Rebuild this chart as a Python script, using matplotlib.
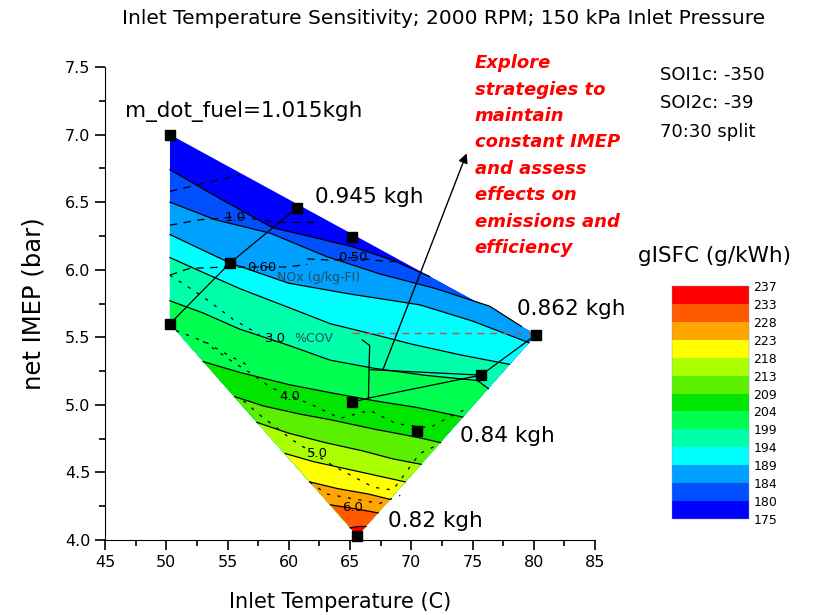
import numpy as np
import matplotlib
matplotlib.use("Agg")
from matplotlib import pyplot as plt
from matplotlib.cm import ScalarMappable
from matplotlib.colors import ListedColormap, BoundaryNorm

plt.rcParams['font.family'] = ['DejaVu Sans']

# operating points: inlet temperature (C), net IMEP (bar)
op_temp = [50.3, 60.7, 65.2, 80.2, 55.2, 50.3, 65.2, 75.7, 70.5, 65.6]
op_imep = [7.00, 6.46, 6.24, 5.52, 6.05, 5.60, 5.02, 5.22, 4.81, 4.03]
# outline of the mapped region (clockwise: top-left, right, bottom, left)
edge_temp = [50.3, 80.2, 65.6, 50.3]
edge_imep = [7.00, 5.52, 4.03, 5.60]

# gISFC contour lines, per level
levels = [175, 180, 184, 189, 194, 199, 204, 209, 213, 218, 223, 228, 233, 237]
c180_t = [50.3, 54.5, 58.7, 62.0, 65.2, 68.5, 71.5]
c180_p = [6.74, 6.52, 6.31, 6.24, 6.17, 6.07, 5.95]
c184_t = [50.3, 54.0, 58.5, 63.0, 67.4, 72.0, 76.4, 79.0]
c184_p = [6.50, 6.37, 6.27, 6.10, 5.97, 5.86, 5.73, 5.58]
c189_t = [50.3, 55.2, 60.0, 65.0, 70.7, 75.0, 79.6]
c189_p = [6.26, 6.05, 5.90, 5.82, 5.74, 5.62, 5.46]
c194_t = [50.3, 53.0, 56.0, 60.0, 63.4, 67.0, 70.0, 74.0, 78.0]
c194_p = [6.09, 5.98, 5.86, 5.72, 5.60, 5.52, 5.45, 5.37, 5.30]
c199_t = [50.3, 53.0, 56.0, 60.0, 63.4, 67.0, 71.0, 75.4, 76.3]
c199_p = [5.77, 5.68, 5.56, 5.44, 5.33, 5.27, 5.22, 5.18, 5.12]
c204_t = [53.0, 56.0, 60.0, 63.4, 67.0, 70.5, 74.2]
c204_p = [5.32, 5.24, 5.15, 5.09, 5.03, 4.98, 4.91]
c209_t = [55.6, 58.0, 61.0, 63.4, 67.0, 70.5, 72.4]
c209_p = [5.06, 4.99, 4.93, 4.89, 4.82, 4.76, 4.72]
c213_t = [57.4, 60.0, 63.0, 66.0, 68.5, 70.8]
c213_p = [4.87, 4.79, 4.72, 4.66, 4.60, 4.56]
c218_t = [59.7, 62.0, 65.0, 67.5, 69.5]
c218_p = [4.64, 4.58, 4.52, 4.47, 4.43]
c223_t = [61.7, 64.0, 66.5, 68.3]
c223_p = [4.43, 4.38, 4.34, 4.30]
c228_t = [63.4, 65.5, 67.3]
c228_p = [4.26, 4.23, 4.20]
c233_t = [65.0, 65.7, 66.3]
c233_p = [4.09, 4.10, 4.10]

band_colors = ['#0000FF', '#0050FF', '#00A0FF', '#00FFFF', '#00FFAA', '#00FF50',
               '#00E600', '#5AF000', '#AAFF00', '#FFFF00', '#FFA500', '#FF5A00', '#FF0000']

# NOx (g/kg-FI) contour lines
nox_a_t = [50.3, 53.1, 56.0]
nox_a_p = [6.58, 6.64, 6.70]
nox_10_t = [50.3, 52.8, 55.6, 57.7, 58.9, 62.5]
nox_10_p = [6.33, 6.37, 6.39, 6.37, 6.35, 6.35]
nox_06_t = [50.3, 51.9, 55.0, 57.8, 59.9, 61.5]
nox_06_p = [5.96, 6.01, 6.02, 6.02, 6.02, 6.04]
nox_05_t = [61.5, 63.6, 65.2, 68.0, 69.0]
nox_05_p = [6.08, 6.07, 6.09, 6.06, 6.06]

# %COV contour lines
cov_30_t = [50.3, 53.0, 55.5, 57.6]
cov_30_p = [5.96, 5.80, 5.63, 5.52]
cov_35_t = [50.8, 53.3, 54.4, 56.5]
cov_35_p = [5.55, 5.46, 5.40, 5.30]
cov_40_t = [53.0, 55.4, 56.8, 58.5, 61.9, 64.2, 66.6, 68.8, 71.5, 73.7, 74.3]
cov_40_p = [5.47, 5.32, 5.24, 5.13, 5.00, 4.90, 4.96, 4.86, 4.83, 4.94, 4.96]
cov_50_t = [56.3, 57.7, 60.3, 63.6, 66.9, 68.5, 70.7, 72.3]
cov_50_p = [5.03, 4.92, 4.74, 4.55, 4.39, 4.37, 4.64, 4.71]
cov_60_t = [61.7, 63.1, 67.4, 69.1]
cov_60_p = [4.43, 4.34, 4.27, 4.33]

contours = [(c180_t, c180_p), (c184_t, c184_p), (c189_t, c189_p), (c194_t, c194_p),
            (c199_t, c199_p), (c204_t, c204_p), (c209_t, c209_p), (c213_t, c213_p),
            (c218_t, c218_p), (c223_t, c223_p), (c228_t, c228_p), (c233_t, c233_p)]

edge = np.column_stack([edge_temp, edge_imep])


def edge_param(pt):
    # position of a point along the outline: edge index + fraction
    best = None
    for i in range(4):
        p0, p1 = edge[i], edge[(i + 1) % 4]
        d = p1 - p0
        t = np.clip(np.dot(pt - p0, d) / np.dot(d, d), 0, 1)
        dist = np.linalg.norm(p0 + t * d - pt)
        if best is None or dist < best[0]:
            best = (dist, i + t)
    return best[1]


def high_side(t, p):
    # polygon on the high-gISFC side of a contour line
    s_par = edge_param(np.array([t[0], p[0]]))
    e_par = edge_param(np.array([t[-1], p[-1]]))
    xs, ys = list(t), list(p)
    for i in range(4):
        if e_par < i < s_par:
            xs.append(edge_temp[i])
            ys.append(edge_imep[i])
    return xs, ys


fig = plt.figure(figsize=(8.13, 6.15), dpi=100)
ax = fig.add_axes([0.1292, 0.1220, 0.6027, 0.7690])

ax.fill(edge_temp, edge_imep, color=band_colors[0], lw=0)
for k, (t, p) in enumerate(contours):
    xs, ys = high_side(t, p)
    ax.fill(xs, ys, color=band_colors[k + 1], lw=0)
for t, p in contours:
    ax.plot(t, p, color='k', lw=0.9)

# sweep lines between operating points
ax.plot([50.3, 55.2, 60.7], [5.60, 6.05, 6.46], color='k', lw=0.9)
ax.plot([65.2, 66.5, 75.7, 80.2], [5.02, 5.05, 5.22, 5.52], color='k', lw=0.9)
ax.plot([66.0, 66.6, 66.5], [5.48, 5.44, 5.05], color='k', lw=0.9)
ax.plot([66.7, 75.7], [5.26, 5.22], color='k', lw=0.9)

for t, p in [(nox_a_t, nox_a_p), (nox_10_t, nox_10_p), (nox_06_t, nox_06_p), (nox_05_t, nox_05_p)]:
    ax.plot(t, p, color='k', lw=0.9, dashes=(6, 5))
for t, p in [(cov_30_t, cov_30_p), (cov_35_t, cov_35_p), (cov_40_t, cov_40_p),
             (cov_50_t, cov_50_p), (cov_60_t, cov_60_p)]:
    ax.plot(t, p, color='k', lw=0.9, dashes=(2.5, 6))

lab = dict(fontsize=9.5, ha='center', va='center', color='k')
ax.text(55.6, 6.39, '1.0', **lab)
ax.text(57.8, 6.02, '0.60', **lab)
ax.text(65.2, 6.09, '0.50', **lab)
ax.text(62.4, 5.94, 'NOx (g/kg-FI)', fontsize=9, ha='center', va='center', color='#1f4f5f')
ax.text(58.9, 5.49, '3.0', **lab)
ax.text(62.0, 5.49, '%COV', fontsize=9, ha='center', va='center', color='#1f4f5f')
ax.text(60.1, 5.06, '4.0', **lab)
ax.text(62.3, 4.64, '5.0', **lab)
ax.text(65.2, 4.24, '6.0', **lab)

# constant IMEP line and arrow
ax.plot([65.2, 80.2], [5.53, 5.53], color='#c05050', lw=1.0, dashes=(5, 4))
ax.annotate('', xy=(74.6, 6.88), xytext=(67.6, 5.24),
            arrowprops=dict(arrowstyle='-|>', color='k', lw=1.0, mutation_scale=14))

ax.plot(op_temp, op_imep, 's', color='k', ms=7, clip_on=False, zorder=5)

ax.text(46.6, 7.17, 'm_dot_fuel=1.015kgh', fontsize=15.5, va='center', ha='left')
ax.text(62.1, 6.54, '0.945 kgh', fontsize=15.5, va='center', ha='left')
ax.text(78.6, 5.71, '0.862 kgh', fontsize=15.5, va='center', ha='left')
ax.text(74.0, 4.77, '0.84 kgh', fontsize=15.5, va='center', ha='left')
ax.text(68.1, 4.14, '0.82 kgh', fontsize=15.5, va='center', ha='left')

ax.set_xlim(45, 85)
ax.set_ylim(4.0, 7.5)
ax.set_xticks(np.arange(45, 86, 5))
ax.set_xticks(np.arange(47.5, 85, 5), minor=True)
ax.set_yticks(np.arange(4.0, 7.51, 0.5))
ax.set_yticks(np.arange(4.25, 7.5, 0.5), minor=True)
ax.spines['top'].set_visible(False)
ax.spines['right'].set_visible(False)
ax.tick_params(which='major', length=7, width=1.2, labelsize=11.5)
ax.tick_params(which='minor', length=4, width=1.2)
ax.set_xlabel('Inlet Temperature (C)', fontsize=15, labelpad=12)
ax.xaxis.set_label_coords(0.48, -0.11)
ax.set_ylabel('net IMEP (bar)', fontsize=17.5, labelpad=14)

fig.text(0.546, 0.97, 'Inlet Temperature Sensitivity; 2000 RPM; 150 kPa Inlet Pressure',
         fontsize=14.5, ha='center', va='center')
fig.text(0.584, 0.912,
         'Explore\nstrategies to\nmaintain\nconstant IMEP\nand assess\neffects on\nemissions and\nefficiency',
         fontsize=13, color='red', fontweight='bold', style='italic', ha='left', va='top',
         linespacing=1.6)
fig.text(0.812, 0.893, 'SOI1c: -350\nSOI2c: -39\n70:30 split', fontsize=13,
         ha='left', va='top', linespacing=1.75)
fig.text(0.785, 0.584, 'gISFC (g/kWh)', fontsize=15.5, ha='left', va='center')

cax = fig.add_axes([0.8266, 0.1561, 0.0947, 0.3789])
cmap = ListedColormap(band_colors)
norm = BoundaryNorm(levels, cmap.N)
cb = fig.colorbar(ScalarMappable(norm=norm, cmap=cmap), cax=cax, ticks=levels, spacing='uniform')
cb.outline.set_linewidth(0.3)
cb.outline.set_edgecolor('#9090c0')
cax.tick_params(length=0, labelsize=9, pad=3)
cax.set_yticklabels([str(v) for v in levels])

fig.savefig('out.png', dpi=100)
